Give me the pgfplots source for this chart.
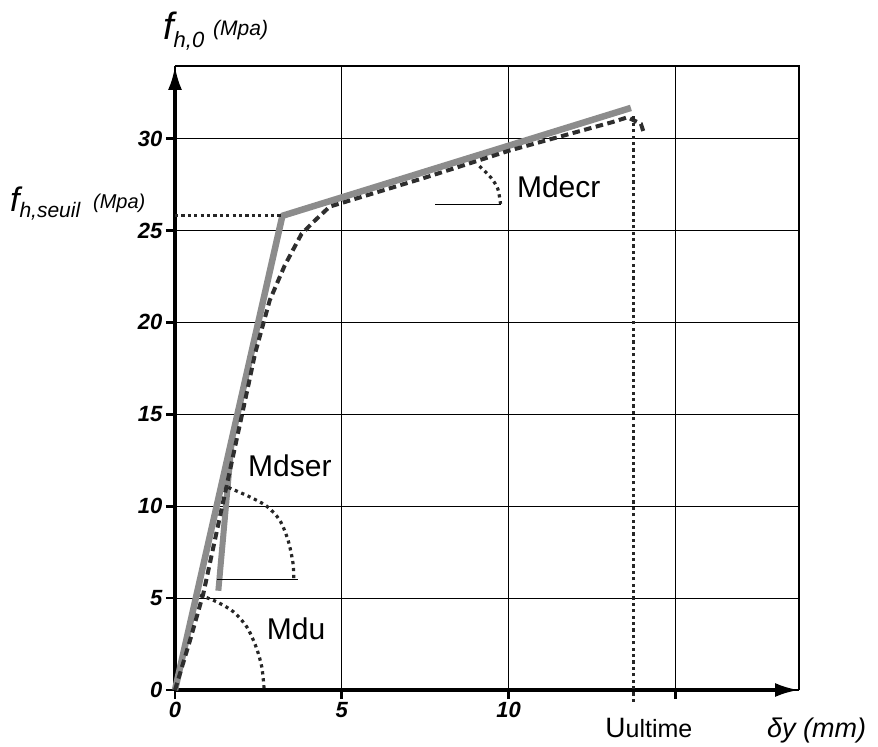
\documentclass[border=0pt]{standalone}
\usepackage{fontspec}
\setmainfont{Liberation Sans}
\usepackage{pgfplots}
\pgfplotsset{compat=1.18}
\usetikzlibrary{arrows.meta}

\pgfplotstableread{
x y
0 0
3.22 25.8
13.67 31.67
}\bilin
\pgfplotstableread{
x y
1.30 5.4
1.70 13.5
}\tangent
\pgfplotstableread{
x y
0 0
0.45 2.7
0.85 5.25
2.19 16.5
2.40 18.3
2.84 21.2
3.29 23.1
3.79 24.8
4.14 25.45
4.64 26.3
7.54 27.9
10.03 29.35
13.12 30.9
13.57 31.16
13.97 30.8
14.07 30.25
}\exper

\begin{document}
\begin{tikzpicture}
\begin{axis}[
 scale only axis, width=624pt, height=624pt,
 xmin=0, xmax=18.71, ymin=0, ymax=33.95,
 axis lines=left,
 axis line style={line width=3.6pt, black, -{Latex[length=24pt,width=14pt]}},
 xtick={0,5,10,15}, xticklabels={0,5,10,{}},
 ytick={0,5,10,15,20,25,30}, yticklabels={0,5,10,15,20,25,30},
 grid=major, grid style={line width=1.1pt, black},
 tick align=outside, major tick length=9pt,
 tick style={line width=2.6pt, black},
 ticklabel style={font=\fontsize{22}{22}\selectfont\bfseries\itshape},
 clip=false,
]
% borders
\draw[line width=1.1pt] (rel axis cs:0,1) -- (rel axis cs:1,1) -- (rel axis cs:1,0);

% bilinear model (gray)
\addplot[line width=6.5pt, color=black!45, line join=round] table[x=x,y=y] {\bilin};
\addplot[line width=6pt, color=black!45] table[x=x,y=y] {\tangent};
% experimental (dashed)
\addplot[line width=4pt, color=black!82, dash pattern=on 7.5pt off 4.5pt] table[x=x,y=y] {\exper};

% dotted guides
\addplot[line width=3.2pt, color=black!85, dash pattern=on 3.2pt off 3.2pt] coordinates {(0,25.8) (3.22,25.8)};
\addplot[line width=3.2pt, color=black!85, dash pattern=on 3.2pt off 3.2pt] coordinates {(13.75,-0.65) (13.75,31.3)};
% Mdu arc
\addplot[line width=3.2pt, color=black!85, dash pattern=on 3.2pt off 3.8pt, smooth] coordinates {(0.75,5.16) (1.25,4.8) (1.75,4.26) (2.15,3.44) (2.43,2.35) (2.6,1.27) (2.67,0.1)};
% Mdser arc
\addplot[line width=3.2pt, color=black!85, dash pattern=on 3.2pt off 3.8pt, smooth] coordinates {(1.60,11.02) (2.25,10.5) (2.75,10.0) (3.14,9.24) (3.39,8.15) (3.54,6.88) (3.56,6.07)};
% Mdecr arc
\addplot[line width=3.2pt, color=black!85, dash pattern=on 3.2pt off 3.8pt, smooth] coordinates {(9.13,28.5) (9.48,27.86) (9.68,27.26) (9.76,26.45)};
% thin reference lines
\addplot[line width=1.3pt, black] coordinates {(1.25,6.02) (3.7,6.02)};
\addplot[line width=1.3pt, black] coordinates {(7.81,26.4) (9.76,26.4)};

% labels
\node[anchor=base west, inner sep=0] at (axis cs:2.19,11.6) {\fontsize{30}{30}\selectfont Mdser};
\node[anchor=base west, inner sep=0] at (axis cs:2.75,2.77) {\fontsize{30}{30}\selectfont Mdu};
\node[anchor=base west, inner sep=0] at (axis cs:10.25,26.8) {\fontsize{30}{30}\selectfont Mdecr};
\node[anchor=base west, inner sep=0] at (axis cs:12.9,-2.56) {\fontsize{28}{28}\selectfont U\fontsize{25}{25}\selectfont ultime};
\node[anchor=base west, inner sep=0] at (axis cs:17.75,-2.56) {\fontsize{27}{27}\selectfont\itshape δy (mm)};
% y axis label
\node[anchor=base west, inner sep=0] at (axis cs:-0.36,35.4) {\fontsize{38}{38}\selectfont\itshape f\raisebox{-8pt}{\fontsize{22}{22}\selectfont h,0}};
\node[anchor=base west, inner sep=0] at (axis cs:1.14,35.6) {\fontsize{21}{21}\selectfont\itshape (Mpa)};
% f h,seuil label
\node[anchor=base west, inner sep=0] at (axis cs:-4.95,26.06) {\fontsize{34}{34}\selectfont\itshape f\raisebox{-6pt}{\fontsize{21}{21}\selectfont h,seuil}};
\node[anchor=base west, inner sep=0] at (axis cs:-2.46,26.2) {\fontsize{20}{20}\selectfont\itshape (Mpa)};
\end{axis}
\pgfresetboundingbox
\path ([shift={(-175pt,-56pt)}]current axis.south west) rectangle ([shift={(79pt,66pt)}]current axis.north east);
\end{tikzpicture}
\end{document}
